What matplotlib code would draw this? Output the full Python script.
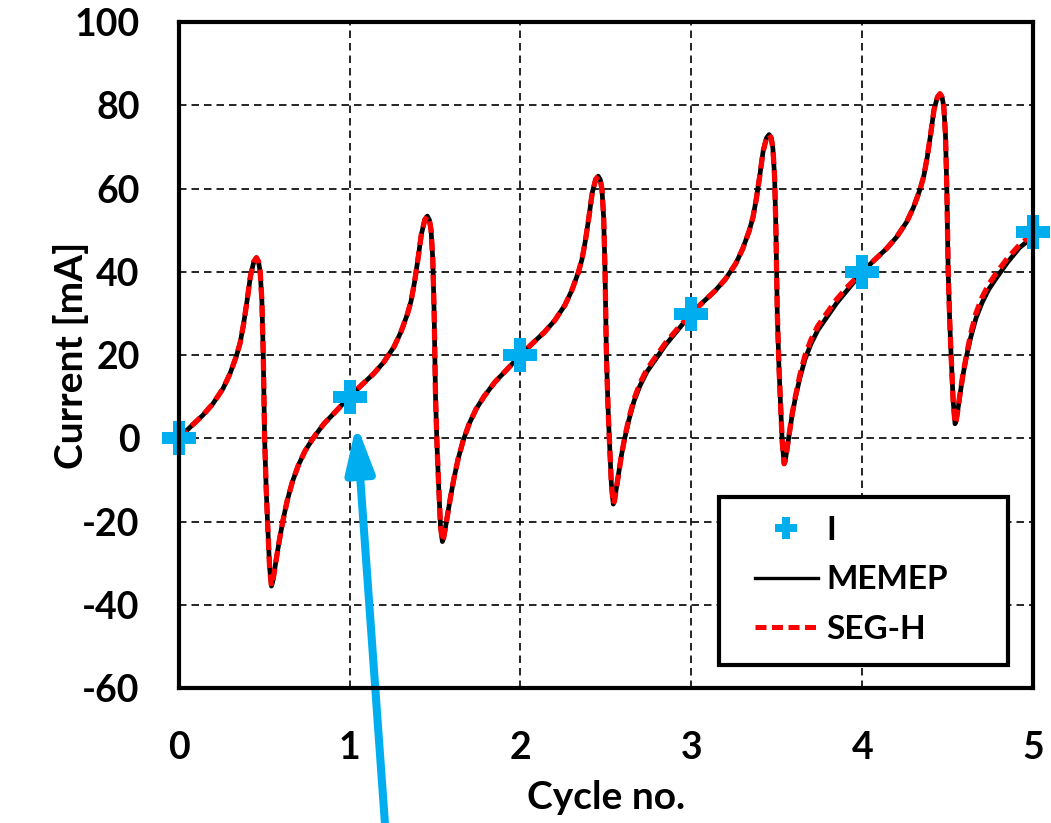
import matplotlib.pyplot as plt
from matplotlib.lines import Line2D
from matplotlib.patches import Rectangle

plt.rcParams["font.family"] = ["Lato", "DejaVu Sans"]
plt.rcParams["font.weight"] = "bold"
plt.rcParams["axes.unicode_minus"] = False

# values
cycle_no = [
    0, 0.07, 0.14, 0.2, 0.26, 0.3, 0.338, 0.36, 0.38, 0.4, 0.42, 0.44, 0.455, 0.467, 0.477, 0.487, 0.495,
    0.503, 0.512, 0.52, 0.532, 0.543, 0.55, 0.56, 0.572, 0.59, 0.61, 0.635, 0.665, 0.7, 0.74, 0.786, 0.85, 0.92,
    1, 1.07, 1.14, 1.2, 1.26, 1.3, 1.338, 1.36, 1.38, 1.4, 1.42, 1.44, 1.455, 1.467, 1.477, 1.487, 1.495,
    1.503, 1.512, 1.52, 1.532, 1.543, 1.55, 1.56, 1.572, 1.59, 1.61, 1.635, 1.665, 1.7, 1.74, 1.786, 1.85, 1.92,
    2, 2.07, 2.14, 2.2, 2.26, 2.3, 2.338, 2.36, 2.38, 2.4, 2.42, 2.44, 2.455, 2.467, 2.477, 2.487, 2.495,
    2.503, 2.512, 2.52, 2.532, 2.543, 2.55, 2.56, 2.572, 2.59, 2.61, 2.635, 2.665, 2.7, 2.74, 2.786, 2.85, 2.92,
    3, 3.07, 3.14, 3.2, 3.26, 3.3, 3.338, 3.36, 3.38, 3.4, 3.42, 3.44, 3.455, 3.467, 3.477, 3.487, 3.495,
    3.503, 3.512, 3.52, 3.532, 3.543, 3.55, 3.56, 3.572, 3.59, 3.61, 3.635, 3.665, 3.7, 3.74, 3.786, 3.85, 3.92,
    4, 4.07, 4.14, 4.2, 4.26, 4.3, 4.338, 4.36, 4.38, 4.4, 4.42, 4.44, 4.455, 4.467, 4.477, 4.487, 4.495,
    4.503, 4.512, 4.52, 4.532, 4.543, 4.55, 4.56, 4.572, 4.59, 4.61, 4.635, 4.665, 4.7, 4.74, 4.786, 4.85, 4.92,
    5,
]
memep = [
    0, 2.8, 5.5, 8.3, 12, 15.5, 19.8, 23, 27.5, 33, 39, 42.5, 43.4, 42.5, 40, 33, 20,
    0, -12, -20, -31, -35.5, -34.5, -32, -28.8, -24.3, -19.8, -15, -10.5, -6.5, -3, 0, 3.5, 6.5,
    10, 12.8, 15.5, 18.3, 22, 25.5, 29.8, 33, 37.5, 43, 49, 52.5, 53.4, 52.5, 50, 43, 30,
    10, -2, -10, -21, -24.8, -24, -21.7, -18.7, -14.3, -9.8, -5, -0.5, 3.5, 7, 10, 13.5, 16.5,
    20, 22.8, 25.5, 28.3, 32, 35.5, 39.8, 43, 47.5, 53, 59, 62.2, 63, 62.2, 59.8, 53, 40,
    20, 8, 0, -11, -15.8, -15, -12.3, -9, -4.3, 0, 4.5, 9, 12.7, 16, 18.7, 22.5, 26,
    30, 32.8, 35.5, 38.3, 42, 45.5, 49.8, 53, 57.5, 63, 69, 72.2, 73, 72.2, 69.8, 63, 50,
    30, 18, 10, -1, -6.1, -5.3, -2.6, 0.8, 5.7, 10, 14.5, 19, 22.7, 26, 28.7, 32.5, 36,
    40, 42.8, 45.5, 48.3, 52, 55.5, 59.8, 63, 67.5, 73, 79, 82, 82.8, 82, 79.8, 73, 60,
    40, 28, 20, 9, 3.5, 4.3, 7, 10.5, 15.3, 19.7, 24.3, 28.8, 32.5, 35.8, 38.6, 42.3, 45.8,
    48.5,
]
seg_h = [
    0, 2.8, 5.5, 8.3, 12, 15.5, 19.8, 23, 27.5, 33, 39, 42.5, 43.4, 42.5, 40, 33, 20,
    0, -12, -20, -31, -35.5, -34.5, -32, -28.8, -24.3, -19.8, -15, -10.5, -6.5, -3, 0, 3.5, 6.5,
    10, 12.8, 15.5, 18.3, 22, 25.5, 29.8, 33, 37.5, 43, 49, 52.5, 53.4, 52.5, 50, 43, 30,
    10, -2, -10, -21, -24.8, -24, -21.7, -18.7, -14.3, -9.8, -5, -0.5, 3.5, 7, 10, 13.5, 16.5,
    20, 22.8, 25.5, 28.3, 32, 35.5, 39.8, 43, 47.5, 53, 59, 62.2, 63, 62.2, 59.8, 53, 40,
    20, 8, 0, -11, -15.8, -15, -12.3, -9, -4.3, 0.2, 4.9, 9.5, 13.3, 16.6, 19.3, 23, 26.4,
    30, 32.8, 35.5, 38.3, 42, 45.5, 49.8, 53, 57.5, 63, 69, 72.2, 73, 72.2, 69.8, 63, 50,
    30, 18, 10, -1, -6.1, -5.3, -2.6, 0.8, 5.9, 10.3, 15.2, 19.9, 23.7, 27, 29.7, 33.4, 36.7,
    40, 42.8, 45.5, 48.3, 52, 55.5, 59.8, 63, 67.5, 73, 79, 82, 82.8, 82, 79.8, 73, 60,
    40, 28, 20, 9, 3.5, 4.3, 7, 10.7, 15.6, 20, 25.2, 30, 33.8, 37, 39.8, 43.3, 46.5,
    49.2,
]
i_cycles = [0, 1, 2, 3, 4, 5]
i_values = [0, 10, 20, 30, 40, 49.5]

blue = "#00AEEF"

fig = plt.figure(figsize=(10.51, 8.23), dpi=100)
ax = fig.add_axes([0.170, 0.164, 0.813, 0.809])

ax.plot(cycle_no, memep, color="black", lw=3.4, zorder=3)
ax.plot(cycle_no, seg_h, color="red", lw=3.8, dashes=(2.2, 1.2), zorder=4)
ax.plot(i_cycles, i_values, ls="none", marker="P", ms=24, color=blue,
        markeredgewidth=0, zorder=5, clip_on=False)

ax.set_xlim(0, 5)
ax.set_ylim(-60, 100)
ax.set_xticks(range(0, 6))
ax.set_yticks(range(-60, 101, 20))
ax.grid(True, color="black", ls=(0, (4.5, 3)), lw=1.2)
ax.set_axisbelow(True)
ax.tick_params(length=0, labelsize=27)
ax.tick_params(axis="x", pad=31)
ax.tick_params(axis="y", pad=28)
for lab in ax.get_xticklabels() + ax.get_yticklabels():
    lab.set_fontweight("bold")
for sp in ax.spines.values():
    sp.set_linewidth(3)
    sp.set_zorder(6)

ax.set_xlabel("Cycle no.", fontsize=28, fontweight="bold", va="top")
ax.set_ylabel("Current [mA]", fontsize=28, fontweight="bold")
ax.xaxis.set_label_coords(0.5, -0.138)
ax.yaxis.set_label_coords(-0.105, 0.5)

# legend frame drawn separately so its size matches the reference
ax.add_patch(Rectangle((0.632, 0.0353), 0.339, 0.252, transform=ax.transAxes,
                       facecolor="white", edgecolor="black", lw=3, zorder=7))
handles = [
    Line2D([], [], ls="none", marker="P", ms=16, color=blue, markeredgewidth=0),
    Line2D([], [], color="black", lw=2.4),
    Line2D([], [], color="red", lw=3.6, dashes=(2.2, 1.1)),
]
leg = ax.legend(handles, ["I", "MEMEP", "SEG-H"], loc="upper left",
                bbox_to_anchor=(0.674, 0.259), fontsize=24, frameon=False,
                handlelength=1.9, handletextpad=0.25, borderpad=0,
                labelspacing=0.62, borderaxespad=0)
for t in leg.get_texts():
    t.set_fontweight("bold")
leg.set_zorder(8)

ax.annotate("", xy=(1.04, 3.4), xytext=(1.22, -100), xycoords="data",
            annotation_clip=False,
            arrowprops=dict(arrowstyle="-|>,head_length=2.8,head_width=0.85",
                            color=blue, lw=5.8, shrinkA=0, shrinkB=0))

fig.savefig("out.png", dpi=100)
